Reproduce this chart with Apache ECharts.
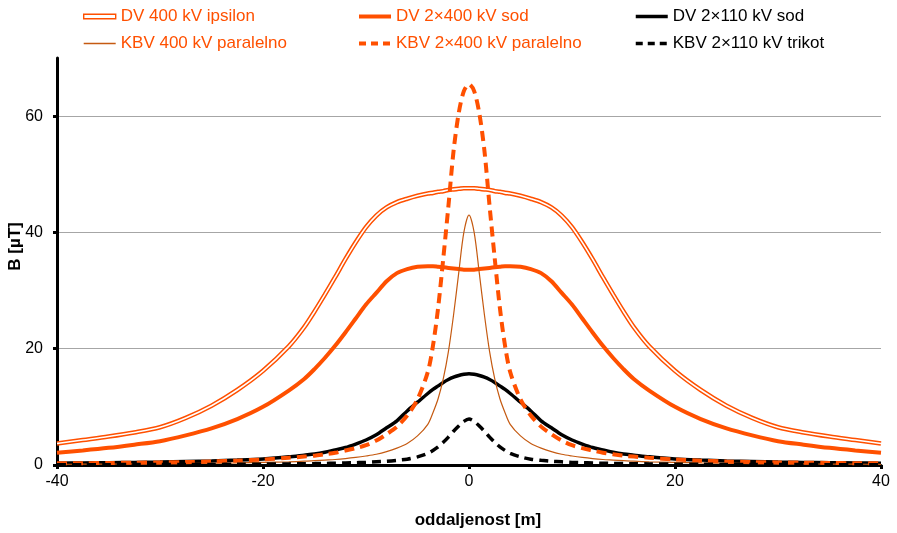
<!DOCTYPE html>
<html>
<head>
<meta charset="utf-8">
<title>B(oddaljenost)</title>
<script src="https://cdn.jsdelivr.net/npm/echarts@6/dist/echarts.min.js"></script>
<style>
  html, body { margin: 0; padding: 0; background: #ffffff; }
  #chart { width: 897px; height: 533px; }
</style>
</head>
<body>
<div id="chart"></div>
<script>
// Distance from the line axis [m]
const distance = [
  -40, -37.5, -35, -32.5, -30, -27.5, -25, -22.5, -20, -17.5, -16, -15, -14, -13, -12, -11,
  -10, -9, -8, -7, -6, -5, -4, -3.5, -3, -2.5, -2, -1.5, -1, -0.5,
  0,
  0.5, 1, 1.5, 2, 2.5, 3, 3.5, 4, 5, 6, 7, 8, 9, 10,
  11, 12, 13, 14, 15, 16, 17.5, 20, 22.5, 25, 27.5, 30, 32.5, 35, 37.5, 40
];

// Magnetic flux density B [µT]
const dv400Ipsilon = [
  3.7, 4.3, 4.9, 5.6, 6.5, 8.1, 10.2, 12.9, 16.2, 20.4, 23.7, 26.4, 29.3, 32.3, 35.4, 38.3,
  40.9, 42.9, 44.3, 45.2, 45.8, 46.3, 46.7, 46.8, 47.0, 47.1, 47.3, 47.4, 47.5, 47.6,
  47.6,
  47.6, 47.5, 47.4, 47.3, 47.1, 47.0, 46.8, 46.7, 46.3, 45.8, 45.2, 44.3, 42.9, 40.9,
  38.3, 35.4, 32.3, 29.3, 26.4, 23.7, 20.4, 16.2, 12.9, 10.2, 8.1, 6.5, 5.6, 4.9, 4.3, 3.7
];
const dv2x400Sod = [
  2.1, 2.5, 2.95, 3.5, 4.1, 5.1, 6.3, 7.9, 10.0, 12.8, 14.8, 16.5, 18.4, 20.5, 22.8, 25.2,
  27.6, 29.6, 31.6, 33.0, 33.7, 34.1, 34.2, 34.2, 34.1, 34.0, 33.9, 33.8, 33.7, 33.6,
  33.6,
  33.6, 33.7, 33.8, 33.9, 34.0, 34.1, 34.2, 34.2, 34.1, 33.7, 33.0, 31.6, 29.6, 27.6,
  25.2, 22.8, 20.5, 18.4, 16.5, 14.8, 12.8, 10.0, 7.9, 6.3, 5.1, 4.1, 3.5, 2.95, 2.5, 2.1
];
const dv2x110Sod = [
  0.3, 0.35, 0.4, 0.45, 0.5, 0.6, 0.7, 0.85, 1.05, 1.4, 1.7, 1.9, 2.2, 2.6, 3.0, 3.6,
  4.3, 5.2, 6.4, 7.6, 9.3, 10.8, 12.3, 13.0, 13.6, 14.2, 14.7, 15.1, 15.4, 15.6,
  15.7,
  15.6, 15.4, 15.1, 14.7, 14.2, 13.6, 13.0, 12.3, 10.8, 9.3, 7.6, 6.4, 5.2, 4.3,
  3.6, 3.0, 2.6, 2.2, 1.9, 1.7, 1.4, 1.05, 0.85, 0.7, 0.6, 0.5, 0.45, 0.4, 0.35, 0.3
];
const kbv400Paralelno = [
  0.12, 0.14, 0.16, 0.18, 0.2, 0.25, 0.3, 0.35, 0.45, 0.55, 0.65, 0.75, 0.85, 0.95, 1.1, 1.3,
  1.55, 1.85, 2.3, 2.9, 3.7, 5.0, 7.0, 9.0, 11.4, 14.8, 19.5, 25.8, 33.0, 40.0,
  43.0,
  40.0, 33.0, 25.8, 19.5, 14.8, 11.4, 9.0, 7.0, 5.0, 3.7, 2.9, 2.3, 1.85, 1.55,
  1.3, 1.1, 0.95, 0.85, 0.75, 0.65, 0.55, 0.45, 0.35, 0.3, 0.25, 0.2, 0.18, 0.16, 0.14, 0.12
];
const kbv2x400Paralelno = [
  0.28, 0.3, 0.35, 0.4, 0.45, 0.5, 0.6, 0.75, 0.95, 1.25, 1.45, 1.6, 1.85, 2.1, 2.5, 2.9,
  3.4, 4.2, 5.3, 6.6, 8.5, 11.3, 16.0, 20.5, 27.0, 35.5, 44.5, 54.0, 60.5, 64.3,
  65.5,
  64.3, 60.5, 54.0, 44.5, 35.5, 27.0, 20.5, 16.0, 11.3, 8.5, 6.6, 5.3, 4.2, 3.4,
  2.9, 2.5, 2.1, 1.85, 1.6, 1.45, 1.25, 0.95, 0.75, 0.6, 0.5, 0.45, 0.4, 0.35, 0.3, 0.28
];
const kbv2x110Trikot = [
  0.05, 0.05, 0.06, 0.07, 0.08, 0.09, 0.1, 0.12, 0.15, 0.19, 0.22, 0.24, 0.27, 0.3, 0.35, 0.4,
  0.45, 0.55, 0.65, 0.8, 1.0, 1.4, 2.0, 2.5, 3.1, 3.9, 4.8, 5.8, 6.7, 7.5,
  7.9,
  7.5, 6.7, 5.8, 4.8, 3.9, 3.1, 2.5, 2.0, 1.4, 1.0, 0.8, 0.65, 0.55, 0.45,
  0.4, 0.35, 0.3, 0.27, 0.24, 0.22, 0.19, 0.15, 0.12, 0.1, 0.09, 0.08, 0.07, 0.06, 0.05, 0.05
];

const xTicks = [-40, -20, 0, 20, 40];
const yTicks = [0, 20, 40, 60];

const ORANGE = '#ff5000';
const BROWN = '#c55a11';
const BLACK = '#000000';
const FONT = '"Liberation Sans", Arial, sans-serif';

const pairs = (ys) => distance.map((x, i) => [x, ys[i]]);

const lineSeries = (name, ys, color, width, type, extra) => Object.assign({
  name: name,
  type: 'line',
  data: pairs(ys),
  smooth: 0.3,
  symbol: 'none',
  showSymbol: false,
  animation: false,
  lineStyle: { color: color, width: width, type: type },
  itemStyle: { color: color }
}, extra || {});

const legendText = (color) => ({ color: color, fontSize: 17, fontFamily: FONT, lineHeight: 17 });
// legend entry drawn as a plain line sample (the point marker is hidden)
const lineItem = (name, color, width, type) => ({
  name: name,
  itemStyle: { opacity: 0 },
  lineStyle: { width: width, type: type },
  textStyle: legendText(color)
});
const legendBase = {
  orient: 'vertical',
  top: 8,
  itemWidth: 32,
  itemHeight: 14,
  itemGap: 10,
  selectedMode: false,
  padding: 0
};

const chart = echarts.init(document.getElementById('chart'), null, { renderer: 'canvas' });

chart.setOption({
  backgroundColor: '#ffffff',
  animation: false,
  textStyle: { fontFamily: FONT },
  grid: { left: 57, right: 16, top: 58, bottom: 68, containLabel: false, outerBoundsMode: 'none' },
  legend: [
    Object.assign({}, legendBase, {
      left: 83,
      data: [
        {
          name: 'DV 400 kV ipsilon',
          icon: 'path://M0,0H64V9H0Z',
          itemStyle: { color: '#ffffff', borderColor: ORANGE, borderWidth: 1.4 },
          textStyle: legendText(ORANGE)
        },
        lineItem('KBV 400 kV paralelno', ORANGE, 1.3, 'solid')
      ]
    }),
    Object.assign({}, legendBase, {
      left: 357,
      data: [
        lineItem('DV 2×400 kV sod', ORANGE, 4, 'solid'),
        lineItem('KBV 2×400 kV paralelno', ORANGE, 4, [7, 5])
      ]
    }),
    Object.assign({}, legendBase, {
      left: 634,
      data: [
        lineItem('DV 2×110 kV sod', BLACK, 3.5, 'solid'),
        lineItem('KBV 2×110 kV trikot', BLACK, 3.5, [7, 5])
      ]
    })
  ],
  xAxis: {
    type: 'value',
    min: -40,
    max: 40,
    interval: 20,
    name: 'oddaljenost [m]',
    nameLocation: 'middle',
    nameGap: 47,
    nameMoveOverlap: false,
    nameTextStyle: { fontSize: 17, fontWeight: 'bold', color: '#000', fontFamily: FONT, padding: [0, 0, 0, 18] },
    axisLine: { show: true, onZero: false, lineStyle: { color: '#000', width: 3 } },
    axisTick: { show: true, length: 4, lineStyle: { color: '#000', width: 3 }, customValues: xTicks },
    axisLabel: { color: '#000', fontSize: 16, margin: 9, fontFamily: FONT, customValues: xTicks },
    splitLine: { show: false }
  },
  yAxis: {
    type: 'value',
    min: 0,
    max: 70,
    interval: 20,
    name: 'B [µT]',
    nameLocation: 'middle',
    nameRotate: 90,
    nameGap: 33,
    nameMoveOverlap: false,
    nameTextStyle: { fontSize: 17, fontWeight: 'bold', color: '#000', fontFamily: FONT, padding: [0, 0, 0, 30] },
    axisLine: { show: true, onZero: false, lineStyle: { color: '#000', width: 3 } },
    axisTick: { show: true, length: 4, lineStyle: { color: '#000', width: 3 }, customValues: yTicks },
    axisLabel: { color: '#000', fontSize: 16, margin: 14, fontFamily: FONT, customValues: yTicks },
    splitLine: { show: true, lineStyle: { color: '#a6a6a6', width: 1 } }
  },
  series: [
    // double-line style: wide orange stroke with a white core on top
    lineSeries('DV 400 kV ipsilon', dv400Ipsilon, ORANGE, 4.6, 'solid', { z: 2 }),
    lineSeries('DV 400 kV ipsilon', dv400Ipsilon, '#ffffff', 1.6, 'solid', { z: 2 }),
    lineSeries('DV 2×400 kV sod', dv2x400Sod, ORANGE, 4, 'solid', { z: 3 }),
    lineSeries('DV 2×110 kV sod', dv2x110Sod, BLACK, 3.5, 'solid', { z: 3 }),
    lineSeries('KBV 400 kV paralelno', kbv400Paralelno, BROWN, 1.2, 'solid', { z: 3 }),
    lineSeries('KBV 2×400 kV paralelno', kbv2x400Paralelno, ORANGE, 4, [10, 6], { z: 3 }),
    lineSeries('KBV 2×110 kV trikot', kbv2x110Trikot, BLACK, 3.5, [9, 6], { z: 3 })
  ]
});
</script>
</body>
</html>
